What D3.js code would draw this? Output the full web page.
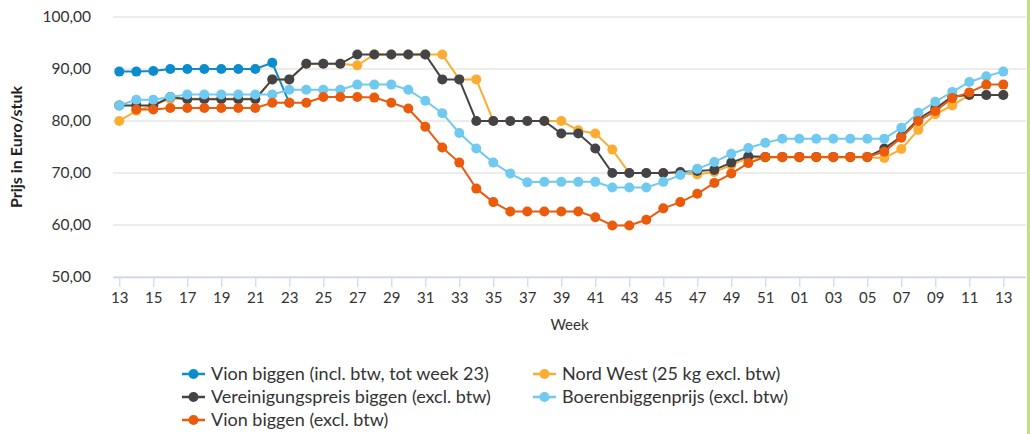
<!DOCTYPE html>
<html>
<head>
<meta charset="utf-8">
<script src="https://cdn.jsdelivr.net/npm/d3@7"></script>
<style>
  body { margin: 0; background: #fff; }
  svg { display: block; font-family: Lato, 'Open Sans', sans-serif; }
</style>
</head>
<body>
<div id="chart"></div>
<script>
// weeks on the x axis (13 of last year up to 13 of this year)
const weeks = ['13','14','15','16','17','18','19','20','21','22','23','24','25','26','27','28','29','30',
  '31','32','33','34','35','36','37','38','39','40','41','42','43','44','45','46','47','48','49','50',
  '51','52','01','02','03','04','05','06','07','08','09','10','11','12','13']

const yTicks = [50, 60, 70, 80, 90, 100]

const vionIncl = [89.5, 89.5, 89.6, 90.0, 90.0, 90.0, 90.0, 90.0, 90.0, 91.2, 83.5,
  null, null, null, null, null, null, null, null, null, null, null, null, null, null, null, null, null,
  null, null, null, null, null, null, null, null, null, null, null, null, null, null, null, null, null,
  null, null, null, null, null, null, null, null]

const nordWest = [80.0, 82.0, 83.0, 84.3, 84.3, 84.3, 84.3, 84.3, 84.3, 88.0, 88.0, 91.0, 91.0, 91.0,
  90.7, 92.8, 92.8, 92.8, 92.8, 92.8, 88.0, 88.0, 80.0, 80.0, 80.0, 80.0, 80.0, 78.2, 77.6, 74.5,
  70.0, 70.0, 70.0, 70.0, 69.7, 70.2, 71.5, 72.9, 73.0, 73.0, 73.0, 73.0, 73.0, 73.0, 73.0, 72.9,
  74.6, 78.3, 81.3, 83.0, 85.0, 85.0, 85.0]

const vereinigung = [83.0, 83.0, 83.0, 84.6, 84.2, 84.2, 84.2, 84.2, 84.2, 88.0, 88.0, 91.0, 91.0, 91.0,
  92.8, 92.8, 92.8, 92.8, 92.8, 88.0, 88.0, 80.0, 80.0, 80.0, 80.0, 80.0, 77.6, 77.6, 74.7, 70.0,
  70.0, 70.0, 70.0, 70.2, 70.4, 70.6, 72.0, 73.2, 73.1, 73.1, 73.1, 73.1, 73.1, 73.1, 73.1, 74.7,
  77.0, 80.4, 82.4, 84.7, 85.0, 85.0, 85.0]

const boeren = [83.0, 84.1, 84.1, 84.6, 85.1, 85.1, 85.1, 85.1, 85.1, 85.1, 86.0, 86.0, 86.0, 86.0,
  87.0, 87.0, 87.0, 86.0, 83.9, 81.5, 77.7, 74.7, 72.0, 69.9, 68.2, 68.3, 68.3, 68.3, 68.3, 67.2,
  67.2, 67.2, 68.3, 69.6, 70.8, 72.1, 73.7, 74.8, 75.8, 76.6, 76.6, 76.6, 76.6, 76.6, 76.6, 76.6,
  78.7, 81.6, 83.7, 85.6, 87.5, 88.6, 89.5]

const vionExcl = [null, 82.2, 82.2, 82.5, 82.5, 82.5, 82.5, 82.5, 82.5, 83.5, 83.5, 83.5, 84.6, 84.6,
  84.6, 84.5, 83.5, 82.4, 78.9, 74.9, 72.0, 67.0, 64.4, 62.6, 62.6, 62.6, 62.6, 62.6, 61.5, 59.9,
  59.9, 61.0, 63.2, 64.4, 66.0, 68.1, 69.9, 71.9, 73.1, 73.1, 73.1, 73.1, 73.1, 73.1, 73.1, 74.1,
  76.8, 80.0, 81.9, 84.4, 85.5, 87.0, 87.0]

const seriesNames = ['Vion biggen (incl. btw, tot week 23)', 'Nord West (25 kg excl. btw)',
  'Vereinigungspreis biggen (excl. btw)', 'Boerenbiggenprijs (excl. btw)', 'Vion biggen (excl. btw)']
const seriesColors = ['#0b8dcd', '#fbad33', '#444448', '#70c9ef', '#eb5b0c']
const seriesValues = [vionIncl, nordWest, vereinigung, boeren, vionExcl]

const W = 1030, H = 434
const plot = { left: 113, right: 1026, top: 17, bottom: 277 }

const svg = d3.select('#chart').append('svg').attr('width', W).attr('height', H)

const x = d3.scalePoint()
  .domain(weeks.map((w, i) => i))
  .range([119.3, 1003.3])
const y = d3.scaleLinear().domain([50, 100]).range([plot.bottom, plot.top])

// grid lines
svg.append('g')
  .selectAll('line')
  .data(yTicks)
  .join('line')
  .attr('x1', plot.left)
  .attr('x2', plot.right)
  .attr('y1', (d) => y(d))
  .attr('y2', (d) => y(d))
  .attr('stroke', '#e6e6e6')
  .attr('stroke-width', 1.5)

// y labels
svg.append('g')
  .selectAll('text')
  .data(yTicks)
  .join('text')
  .attr('x', 91)
  .attr('y', (d) => y(d) + 5)
  .attr('text-anchor', 'end')
  .attr('font-size', 15.5)
  .attr('fill', '#333')
  .text((d) => d3.format('.2f')(d).replace('.', ','))

// x axis
const xAxis = svg.append('g')
  .attr('transform', `translate(0,${plot.bottom})`)
  .call(d3.axisBottom(x)
    .tickValues(weeks.map((w, i) => i).filter((i) => i % 2 === 0))
    .tickFormat((i) => weeks[i])
    .tickSize(10)
    .tickSizeOuter(0))
xAxis.select('.domain').attr('d', `M${plot.left},0.5H${plot.right}`).attr('stroke', '#ccd6eb').attr('stroke-width', 1.5)
xAxis.selectAll('.tick line').attr('stroke', '#ccd6eb').attr('stroke-width', 1.2)
xAxis.selectAll('.tick text')
  .attr('y', 15)
  .attr('font-family', 'Lato, sans-serif')
  .attr('font-size', 15)
  .attr('fill', '#333')

// axis titles
svg.append('text')
  .attr('transform', `translate(22,${(plot.top + plot.bottom) / 2}) rotate(-90)`)
  .attr('text-anchor', 'middle')
  .attr('font-size', 16)
  .attr('font-weight', 'bold')
  .attr('fill', '#222')
  .text('Prijs in Euro/stuk')

svg.append('text')
  .attr('x', (plot.left + plot.right) / 2)
  .attr('y', 330)
  .attr('text-anchor', 'middle')
  .attr('font-size', 15)
  .attr('fill', '#333')
  .text('Week')

// series
const line = d3.line()
  .defined((d) => d !== null)
  .x((d, i) => x(i))
  .y((d) => y(d))

seriesValues.forEach((vals, s) => {
  const g = svg.append('g')
  g.append('path')
    .datum(vals)
    .attr('d', line)
    .attr('fill', 'none')
    .attr('stroke', seriesColors[s])
    .attr('stroke-width', 2)
  g.selectAll('circle')
    .data(vals.map((v, i) => ({ v, i })).filter((d) => d.v !== null))
    .join('circle')
    .attr('cx', (d) => x(d.i))
    .attr('cy', (d) => y(d.v))
    .attr('r', 5)
    .attr('fill', seriesColors[s])
})

// legend
const legendPos = [[182, 374], [533, 374], [182, 397], [533, 397], [182, 420]]
const legend = svg.append('g')
  .selectAll('g')
  .data(seriesNames)
  .join('g')
  .attr('transform', (d, i) => `translate(${legendPos[i][0]},${legendPos[i][1]})`)
legend.append('line')
  .attr('x1', 0).attr('x2', 23).attr('y1', 0).attr('y2', 0)
  .attr('stroke', (d, i) => seriesColors[i])
  .attr('stroke-width', 2.5)
legend.append('circle')
  .attr('cx', 11.5).attr('cy', 0).attr('r', 5)
  .attr('fill', (d, i) => seriesColors[i])
legend.append('text')
  .attr('x', 29)
  .attr('y', 6)
  .attr('font-size', 18)
  .attr('fill', '#333')
  .text((d) => d)

// green edge on the right
svg.append('rect')
  .attr('x', 1027).attr('y', 0).attr('width', 3).attr('height', H)
  .attr('fill', '#bfe27a')
</script>
</body>
</html>
